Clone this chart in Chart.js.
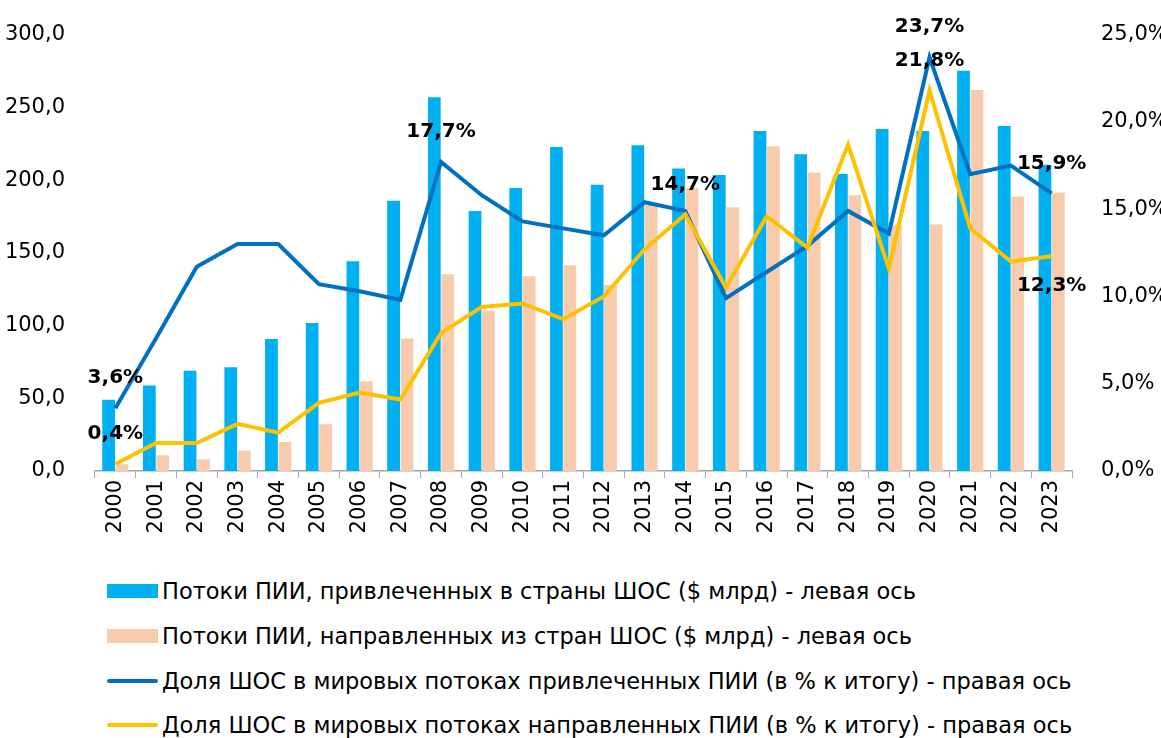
<!DOCTYPE html>
<html>
<head>
<meta charset="utf-8">
<script src="https://cdn.jsdelivr.net/npm/chart.js@4.4.1/dist/chart.umd.min.js"></script>
<style>
  html, body { margin: 0; padding: 0; background: #fff; }
  #wrap { position: relative; width: 1161px; height: 738px; }
  #chart { position: absolute; left: 0; top: 0; }
  #legend { position: absolute; left: 107px; top: 569px; font-family: "DejaVu Sans", sans-serif; font-size: 22.5px; color: #000; }
  .item { height: 44.7px; display: flex; align-items: center; white-space: nowrap; }
  .sw { width: 51px; margin-right: 4px; }
  .box { height: 14px; }
  .ln { height: 4px; border-radius: 2px; }
</style>
</head>
<body>
<div id="wrap">
  <canvas id="chart" width="1161" height="560"></canvas>
  <div id="legend"></div>
</div>
<script>
const years = ['2000','2001','2002','2003','2004','2005','2006','2007','2008','2009','2010','2011',
  '2012','2013','2014','2015','2016','2017','2018','2019','2020','2021','2022','2023'];

// $ bn, left axis
const inflows = [49.0, 58.8, 69.0, 71.3, 90.7, 101.8, 144.2, 185.7, 257.0, 178.8, 194.6, 222.8,
  196.8, 223.9, 208.0, 203.4, 233.7, 217.8, 204.1, 235.1, 233.7, 275.2, 237.1, 210.5];
const outflows = [4.6, 10.9, 8.0, 13.9, 20.0, 32.1, 61.7, 91.1, 135.3, 110.2, 133.9, 141.5,
  127.8, 182.9, 194.5, 181.3, 223.3, 205.0, 189.5, 169.5, 169.5, 262.0, 188.6, 191.3];

// % of world total, right axis
const shareIn = [3.6, 7.6, 11.7, 13.0, 13.0, 10.7, 10.3, 9.8, 17.7, 15.8, 14.3, 13.9,
  13.5, 15.4, 14.9, 9.9, 11.4, 12.9, 14.9, 13.6, 23.7, 17.0, 17.5, 15.9];
const shareOut = [0.4, 1.6, 1.6, 2.7, 2.2, 3.9, 4.5, 4.1, 7.9, 9.4, 9.6, 8.7,
  10.0, 12.7, 14.7, 10.5, 14.6, 12.8, 18.7, 11.6, 21.8, 13.9, 12.0, 12.3];

const labels = [
  'Потоки ПИИ, привлеченных в страны ШОС ($ млрд) - левая ось',
  'Потоки ПИИ, направленных из стран ШОС ($ млрд) - левая ось',
  'Доля ШОС в мировых потоках привлеченных ПИИ (в % к итогу) - правая ось',
  'Доля ШОС в мировых потоках направленных ПИИ (в % к итогу) - правая ось'
];
const colors = ['#00B0F0', '#F8CBAD', '#0070C0', '#FFC000'];

// which points get a value label: [dataset, index, 'above'|'below']
const callouts = [[2, 0, 'above'], [3, 0, 'above'], [2, 8, 'above'], [3, 14, 'above'],
  [2, 20, 'above'], [3, 20, 'above'], [2, 23, 'above'], [3, 23, 'below']];

const fmt = (v, d) => v.toFixed(d).replace('.', ',');

const calloutPlugin = {
  id: 'callouts',
  afterDatasetsDraw(chart) {
    const ctx = chart.ctx;
    ctx.save();
    ctx.font = 'bold 20px "DejaVu Sans"';
    ctx.fillStyle = '#000';
    ctx.textAlign = 'center';
    ctx.textBaseline = 'middle';
    callouts.forEach(([ds, i, pos]) => {
      const v = chart.data.datasets[ds].data[i];
      const x = chart.scales.x.getPixelForValue(i);
      const y = chart.scales.y1.getPixelForValue(v);
      ctx.fillText(fmt(v, 1) + '%', x, pos === 'above' ? y - 30 : y + 30);
    });
    ctx.restore();
  }
};

const tickFont = { family: 'DejaVu Sans', size: 21 };

new Chart(document.getElementById('chart'), {
  type: 'bar',
  data: {
    labels: years,
    datasets: [
      { label: labels[0], data: inflows, backgroundColor: colors[0], yAxisID: 'y', order: 3,
        categoryPercentage: 0.66, barPercentage: 0.95 },
      { label: labels[1], data: outflows, backgroundColor: colors[1], yAxisID: 'y', order: 3,
        categoryPercentage: 0.66, barPercentage: 0.95 },
      { type: 'line', label: labels[2], data: shareIn, borderColor: colors[2], backgroundColor: colors[2],
        borderWidth: 4, pointRadius: 0, tension: 0, yAxisID: 'y1', order: 2 },
      { type: 'line', label: labels[3], data: shareOut, borderColor: colors[3], backgroundColor: colors[3],
        borderWidth: 4, pointRadius: 0, tension: 0, yAxisID: 'y1', order: 1 }
    ]
  },
  options: {
    responsive: false,
    animation: false,
    layout: { padding: { top: 32, left: 0, right: 0, bottom: 0 } },
    plugins: { legend: { display: false }, tooltip: { enabled: false } },
    scales: {
      x: {
        offset: true,
        grid: { display: true, drawOnChartArea: false, drawTicks: true, tickLength: 7, color: '#A6A6A6', offset: true },
        border: { display: true, color: '#A6A6A6', width: 1.5 },
        ticks: { color: '#000', font: tickFont, maxRotation: 90, minRotation: 90, padding: 2 },
        afterFit: (s) => { s.height = 89; }
      },
      y: {
        position: 'left',
        min: 0, max: 300,
        ticks: { stepSize: 50, color: '#000', font: tickFont, padding: 22,
          callback: (v) => fmt(v, 1) },
        grid: { display: false },
        border: { display: false },
        afterFit: (s) => { s.width = 95; }
      },
      y1: {
        position: 'right',
        min: 0, max: 25,
        ticks: { stepSize: 5, color: '#000', font: tickFont, padding: 21,
          callback: (v) => fmt(v, 1) + '%' },
        grid: { display: false },
        border: { display: false },
        afterFit: (s) => { s.width = 89; }
      }
    }
  },
  plugins: [calloutPlugin]
});

const legend = document.getElementById('legend');
labels.forEach((t, i) => {
  const row = document.createElement('div');
  row.className = 'item';
  const sw = document.createElement('div');
  sw.className = 'sw ' + (i < 2 ? 'box' : 'ln');
  sw.style.background = colors[i];
  const txt = document.createElement('span');
  txt.textContent = t;
  row.appendChild(sw);
  row.appendChild(txt);
  legend.appendChild(row);
});
</script>
</body>
</html>
